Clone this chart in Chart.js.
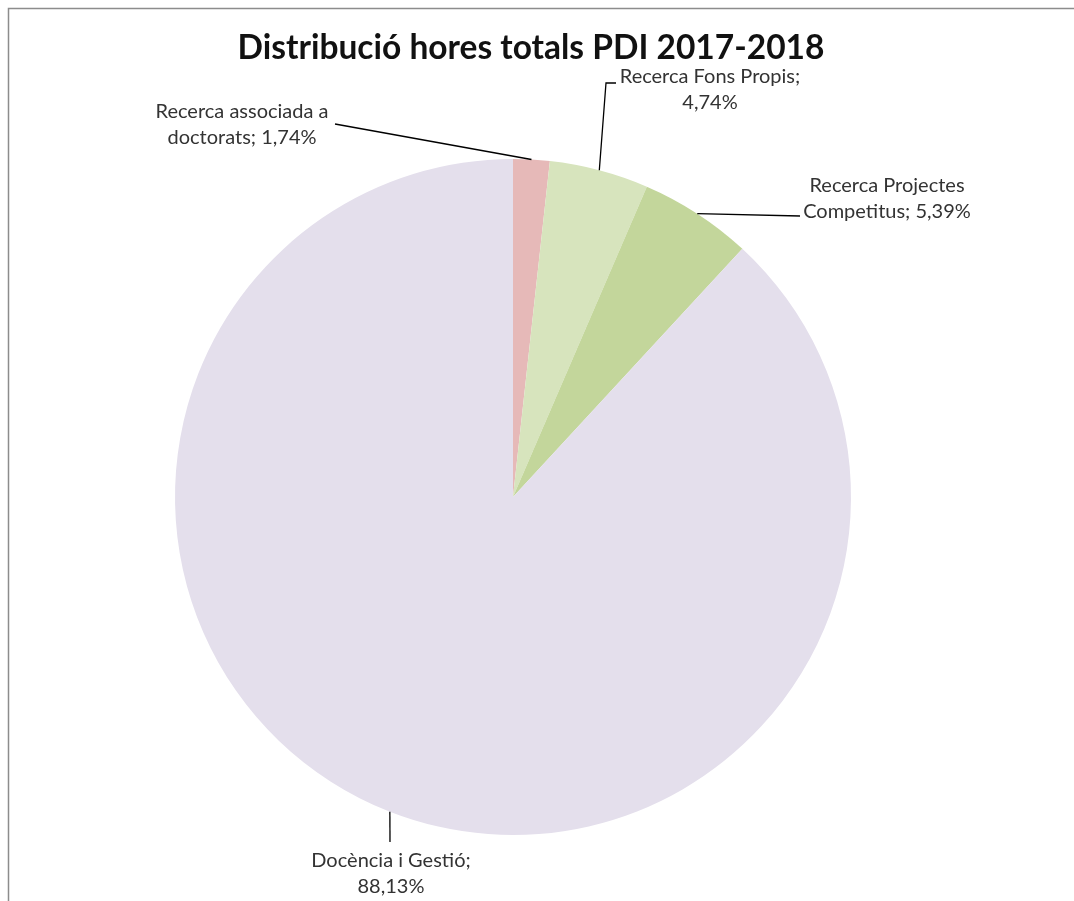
<!DOCTYPE html>
<html>
<head>
<meta charset="utf-8">
<script src="https://cdn.jsdelivr.net/npm/chart.js@4.4.1/dist/chart.umd.min.js"></script>
<style>
  html, body { margin: 0; padding: 0; background: #fff; }
  #wrap { width: 1074px; height: 901px; position: relative; }
</style>
</head>
<body>
<div id="wrap"><canvas id="myChart" width="1074" height="901"></canvas></div>
<script>
var categorias = ['Recerca associada a doctorats', 'Recerca Fons Propis', 'Recerca Projectes Competitus', 'Docència i Gestió'];
var porcentajes = [1.74, 4.74, 5.39, 88.13];
var colores = ['#E6B9B8', '#D7E4BD', '#C3D69B', '#E4DFEC'];
var titulo = 'Distribució hores totals PDI 2017-2018';

// donde va cada etiqueta: centro del bloque de texto y final de la linea guia
var etiquetas = [
  { cx: 242, cy: 125, ex: 335, ey: 124, stub: 0 },
  { cx: 710, cy: 90, ex: 606, ey: 83, stub: 10 },
  { cx: 887, cy: 199, ex: 800, ey: 216, stub: 0 },
  { cx: 391, cy: 874, ex: 390, ey: 842, stub: 0 }
];

function formato(v) {
  return v.toFixed(2).replace('.', ',') + '%';
}

function partir(ctx, texto, maxW) {
  var palabras = texto.split(' ');
  var lineas = [];
  var actual = '';
  palabras.forEach(function (p) {
    var prueba = actual ? actual + ' ' + p : p;
    if (ctx.measureText(prueba).width > maxW && actual) {
      lineas.push(actual);
      actual = p;
    } else {
      actual = prueba;
    }
  });
  if (actual) lineas.push(actual);
  return lineas;
}

var extras = {
  id: 'extras',
  afterDraw: function (chart) {
    var c = chart.ctx;
    c.save();
    // marco
    c.strokeStyle = '#8c8c8c';
    c.lineWidth = 1.5;
    c.beginPath();
    c.moveTo(8.5, 901);
    c.lineTo(8.5, 8.5);
    c.lineTo(1074, 8.5);
    c.stroke();

    // titulo
    c.fillStyle = '#111';
    c.font = 'bold 33.5px Lato';
    c.textAlign = 'center';
    c.textBaseline = 'middle';
    c.fillText(titulo, 531, 48);

    // etiquetas con linea guia
    var arcs = chart.getDatasetMeta(0).data;
    c.font = '20px Lato';
    arcs.forEach(function (arc, i) {
      var e = etiquetas[i];
      var mid = (arc.startAngle + arc.endAngle) / 2;
      var px = arc.x + Math.cos(mid) * arc.outerRadius;
      var py = arc.y + Math.sin(mid) * arc.outerRadius;
      c.strokeStyle = '#000';
      c.lineWidth = 1.3;
      c.beginPath();
      c.moveTo(px, py);
      c.lineTo(e.ex, e.ey);
      if (e.stub) c.lineTo(e.ex + e.stub, e.ey);
      c.stroke();

      var lineas = partir(c, categorias[i] + '; ' + formato(porcentajes[i]), 200);
      c.fillStyle = '#333';
      var alto = 26;
      var y0 = e.cy - (lineas.length - 1) * alto / 2;
      lineas.forEach(function (l, k) {
        c.fillText(l, e.cx, y0 + k * alto);
      });
    });
    c.restore();
  }
};

var ctx = document.getElementById('myChart').getContext('2d');
var myChart = new Chart(ctx, {
  type: 'pie',
  data: {
    labels: categorias,
    datasets: [{
      data: porcentajes,
      backgroundColor: colores,
      borderWidth: 0
    }]
  },
  options: {
    responsive: false,
    animation: false,
    layout: { padding: { top: 159, bottom: 66, left: 175, right: 223 } },
    plugins: {
      legend: { display: false },
      title: { display: false },
      tooltip: { enabled: false }
    }
  },
  plugins: [extras]
});
</script>
</body>
</html>
